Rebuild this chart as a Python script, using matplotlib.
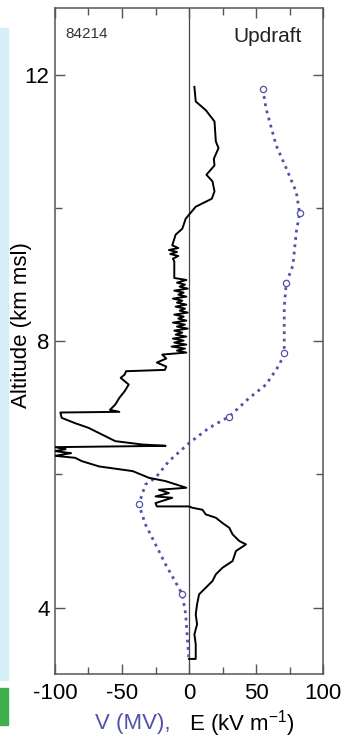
import numpy as np
import matplotlib
matplotlib.use("Agg")
import matplotlib.pyplot as plt
from matplotlib.patches import Rectangle

# E field profile (kV/m) vs altitude (km msl)
e_alt = [11.82, 11.60, 11.47, 11.30, 11.00, 10.90, 10.74, 10.64, 10.50, 10.40,
         10.25, 10.14, 10.02, 9.84, 9.69, 9.60, 9.44, 9.40, 9.37, 9.34,
         9.31, 9.28, 9.24, 9.20, 8.95, 8.92, 8.88, 8.85, 8.82, 8.79,
         8.76, 8.73, 8.70, 8.67, 8.64, 8.61, 8.58, 8.55, 8.52, 8.49,
         8.46, 8.43, 8.40, 8.37, 8.34, 8.31, 8.28, 8.25, 8.22, 8.19,
         8.16, 8.13, 8.10, 8.07, 8.04, 8.01, 7.98, 7.95, 7.92, 7.89,
         7.86, 7.83, 7.80, 7.74, 7.68, 7.62, 7.57, 7.55, 7.50, 7.45,
         7.35, 7.25, 7.15, 7.05, 6.97, 6.94, 6.93, 6.85, 6.77, 6.70,
         6.60, 6.50, 6.45, 6.43, 6.41, 6.38, 6.35, 6.32, 6.28, 6.25,
         6.20, 6.12, 6.05, 5.95, 5.90, 5.82, 5.80, 5.77, 5.72, 5.67,
         5.65, 5.57, 5.52, 5.52, 5.50, 5.47, 5.40, 5.35, 5.27, 5.20,
         5.10, 5.00, 4.95, 4.85, 4.70, 4.60, 4.50, 4.40, 4.30, 4.20,
         4.05, 3.90, 3.75, 3.60, 3.45, 3.30, 3.23, 3.23]
e_val = [4, 5, 12.5, 19, 20, 22, 18.5, 19, 13, 17.5,
         19, 17, 5, -2.5, -5, -10, -12.5, -8, -15, -9,
         -14, -8, -12, -11, -11, -2, -9, -3, -7, -1,
         -11, -4, -8, -2, -12, -5, -9, -2, -10, -3,
         -7, -1, -11, -4, -8, -2, -12, -3, -9, -1,
         -11, -5, -10, -2, -12, -4, -11, -2, -13, -3,
         -9, -2, -20, -17, -24, -17, -18, -47, -48, -51,
         -45, -48, -52, -55, -59, -52, -96, -95, -85, -75,
         -65, -55, -35, -17.5, -100, -92, -100, -88, -100, -85,
         -80, -67, -42, -30, -17.5, -5, -2, -22.5, -15, -25,
         -12.5, -25, -24, 0, 2.5, 10, 12.5, 20, 25, 30,
         32.5, 37.5, 42.5, 35, 32.5, 25, 20, 17.5, 12.5, 7.5,
         6, 5, 6, 4, 5, 5, 5, 0]

# potential V (MV) vs altitude
v_alt = [11.79, 11.49, 10.94, 10.60, 10.24, 9.92, 9.64, 9.14, 8.87, 8.50,
         8.10, 7.82, 7.65, 7.35, 7.15, 6.87, 6.70, 6.47, 6.20, 5.95,
         5.85, 5.55, 5.25, 4.95, 4.65, 4.20, 3.90, 3.55, 3.20]
v_val = [55, 57.5, 65, 72.5, 80, 82.5, 80, 77.5, 72.5, 71,
         71, 71, 67.5, 57.5, 45, 30, 15, 0, -15, -25,
         -32.5, -37.5, -32.5, -25, -17.5, -5, -2.5, -1.3, 0]
v_marks = [0, 5, 8, 11, 15, 21, 25]

plt.rcParams["font.family"] = ["Liberation Sans", "DejaVu Sans"]
plt.rcParams["axes.unicode_minus"] = False
blue = "#5252a8"

fig = plt.figure(figsize=(3.57, 7.5), dpi=100)
# bits of the neighbouring panel at the left edge
fig.patches.append(Rectangle((0, 0.093), 0.022, 0.87, transform=fig.transFigure,
                             color="#d6eef5", zorder=0))
fig.patches.append(Rectangle((0, 0.033), 0.022, 0.05, transform=fig.transFigure,
                             color="#3fae4f", zorder=0))

ax = fig.add_axes([0.154, 0.101, 0.751, 0.888])
ax.axvline(0, color="#444444", lw=0.9, zorder=1)
ax.plot(v_val, v_alt, ls=":", lw=2.0, color=blue, marker="o", ms=4.5,
        mfc="white", mec=blue, mew=0.9, markevery=v_marks, zorder=2)
ax.plot(e_val, e_alt, color="black", lw=1.4, zorder=3)

ax.set_xlim(-100, 100)
ax.set_ylim(3, 13)
ax.set_xticks([-100, -50, 0, 50, 100])
ax.set_xticks([-75, -25, 25, 75], minor=True)
ax.set_yticks([4, 8, 12])
ax.set_yticks([6, 10], minor=True)
ax.tick_params(which="both", direction="in", top=True, right=True,
               labelsize=16, color="#555555", pad=6)
ax.tick_params(axis="y", pad=4)
ax.tick_params(which="major", length=7, width=1)
ax.tick_params(which="minor", length=5, width=1)
for s in ax.spines.values():
    s.set_color("#555555")
    s.set_linewidth(1.1)

ax.set_ylabel("Altitude (km msl)", fontsize=16)
ax.yaxis.set_label_coords(-0.085, 0.524)

ax.text(0.43, -0.074, "V (MV),", transform=ax.transAxes, ha="right",
        va="center", fontsize=16, color=blue)
ax.text(0.50, -0.074, "E (kV m$^{\\mathdefault{-1}}$)", transform=ax.transAxes,
        ha="left", va="center", fontsize=16, color="black")

ax.text(0.04, 0.972, "84214", transform=ax.transAxes, ha="left", va="top",
        fontsize=11, color="#333333")
ax.text(0.92, 0.972, "Updraft", transform=ax.transAxes, ha="right", va="top",
        fontsize=15, color="#222222")

fig.savefig("out.png", dpi=100)
